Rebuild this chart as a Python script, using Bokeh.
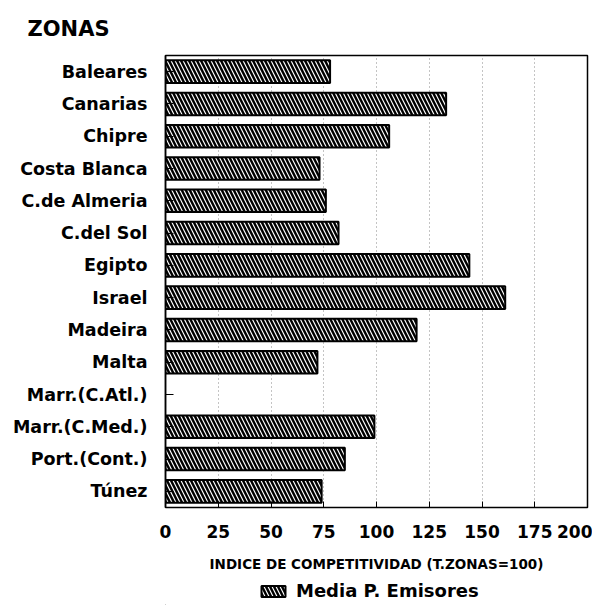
from bokeh.plotting import figure
from bokeh.layouts import column
from bokeh.models import FactorRange, Legend, LegendItem, ColumnDataSource, FixedTicker
from bokeh.embed import file_html
from bokeh.resources import INLINE

zonas = ["Baleares", "Canarias", "Chipre", "Costa Blanca", "C.de Almeria", "C.del Sol",
         "Egipto", "Israel", "Madeira", "Malta", "Marr.(C.Atl.)", "Marr.(C.Med.)",
         "Port.(Cont.)", "Túnez"]
media_emisores = [78, 133, 106, 73, 76, 82, 144, 161, 119, 72, float("nan"), 99, 85, 74]
x_ticks = [0, 25, 50, 75, 100, 125, 150, 175, 200]
serie = "Media P. Emisores"

bar_style = dict(fill_color="white", line_color="black", line_width=2,
                 hatch_pattern="\\", hatch_color="black", hatch_weight=2.4, hatch_scale=8)

src = ColumnDataSource(dict(zona=zonas, valor=media_emisores))

p = figure(frame_width=422, frame_height=452, output_backend="svg", toolbar_location=None,
           y_range=FactorRange(factors=list(reversed(zonas))),
           x_range=(0, 200),
           min_border_left=165, min_border_right=5, min_border_top=55, min_border_bottom=68)

p.hbar(y="zona", right="valor", left=0, height=0.7, source=src, **bar_style)

p.title.text = "ZONAS"
p.title.text_font = "DejaVu Sans"
p.title.text_font_size = "21px"
p.title.text_font_style = "bold"
p.title.text_color = "black"
p.title.align = "left"
p.title.offset = -138
p.title.standoff = 29

p.outline_line_color = "black"
p.outline_line_width = 1.5

p.xaxis.ticker = FixedTicker(ticks=x_ticks)
p.xaxis.axis_label = "INDICE DE COMPETITIVIDAD (T.ZONAS=100)"
p.xaxis.axis_label_text_font = "DejaVu Sans"
p.xaxis.axis_label_text_font_size = "13.5px"
p.xaxis.axis_label_text_font_style = "bold"
p.xaxis.axis_label_text_color = "black"
p.xaxis.axis_label_standoff = 15
p.xaxis.major_label_text_font = "DejaVu Sans"
p.xaxis.major_label_text_font_size = "17px"
p.xaxis.major_label_text_font_style = "bold"
p.xaxis.major_label_text_color = "black"
p.xaxis.major_label_standoff = 17
p.xaxis.major_tick_in = 6
p.xaxis.major_tick_out = 0
p.xaxis.minor_tick_line_color = None
p.xaxis.axis_line_color = "black"

p.yaxis.major_label_text_font = "DejaVu Sans"
p.yaxis.major_label_text_font_size = "17.5px"
p.yaxis.major_label_text_font_style = "bold"
p.yaxis.major_label_text_color = "black"
p.yaxis.major_label_standoff = 18
p.yaxis.major_tick_in = 8
p.yaxis.major_tick_out = 0
p.yaxis.axis_line_width = 1.5

p.xgrid.grid_line_color = "#888888"
p.xgrid.grid_line_dash = "1 3"
p.xgrid.grid_line_width = 1
p.ygrid.grid_line_color = None

# legend strip (the swatch glyph itself lies outside the strip's visible range)
pl = figure(frame_width=592, frame_height=30, output_backend="svg", toolbar_location=None,
            x_range=(0, 1), y_range=(0, 1), min_border=0)
pl.axis.visible = False
pl.grid.visible = False
pl.outline_line_color = None
lr = pl.hbar(y=[-5], right=[-5], left=-6, height=0.7, **bar_style)
legend = Legend(items=[LegendItem(label=serie, renderers=[lr])],
                orientation="horizontal", location=(258, 4),
                label_text_font="DejaVu Sans", label_text_font_size="18px",
                label_text_font_style="bold", label_text_color="black",
                label_standoff=8,
                glyph_width=30, glyph_height=14, background_fill_alpha=0,
                border_line_color=None, padding=2, margin=0)
pl.add_layout(legend, "center")

layout = column(p, pl, spacing=0)
open("out.html", "w").write(file_html(layout, INLINE))
